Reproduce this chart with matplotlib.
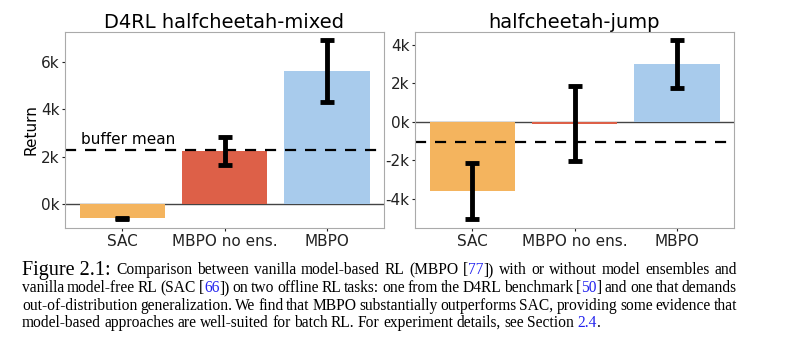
import matplotlib.pyplot as plt

# Data
methods = ["SAC", "MBPO no ens.", "MBPO"]
colors = ["#F4B45E", "#DD6048", "#A8CBEC"]

mixed_mean = [-600, 2250, 5600]
mixed_err = [30, 600, 1300]
mixed_buffer = 2300

jump_mean = [-3570, -100, 2980]
jump_err = [1440, 1940, 1250]
jump_buffer = -1050

caption_lines = [
    "Comparison between vanilla model-based RL (MBPO [{77}]) with or without model ensembles and",
    "vanilla model-free RL (SAC [{66}]) on two offline RL tasks: one from the D4RL benchmark [{50}] and one that demands",
    "out-of-distribution generalization. We find that MBPO substantially outperforms SAC, providing some evidence that",
    "model-based approaches are well-suited for batch RL. For experiment details, see Section {2.4}.",
]

W, H = 790, 342
fig = plt.figure(figsize=(W / 100, H / 100), dpi=100)


def k_fmt(v, _):
    return f"{int(round(v / 1000))}k"


def panel(rect, title, means, errs, buffer, ylim, ticks, ylabel=None):
    ax = fig.add_axes(rect)
    ax.axhline(0, color="#444444", lw=1, zorder=0.5)
    ax.bar(methods, means, width=0.84, color=colors, zorder=1)
    ax.errorbar(range(len(methods)), means, yerr=errs, fmt="none",
                ecolor="black", elinewidth=3.5, capsize=5, capthick=3.5,
                zorder=3)
    ax.axhline(buffer, color="black", lw=1.6, ls=(0, (5, 4)), zorder=2)
    ax.set_ylim(*ylim)
    ax.set_yticks(ticks)
    ax.yaxis.set_major_formatter(plt.FuncFormatter(k_fmt))
    ax.set_title(title, fontsize=14, pad=2)
    ax.tick_params(labelsize=11, length=2, pad=2, colors="#222222")
    for s in ax.spines.values():
        s.set_color("#AAAAAA")
    if ylabel:
        ax.set_ylabel(ylabel, fontsize=11, labelpad=2)
    return ax


ax1 = panel([65 / W, 1 - 228 / H, 319 / W, 196 / H], "D4RL halfcheetah-mixed",
            mixed_mean, mixed_err, mixed_buffer, (-1000, 7250),
            [0, 2000, 4000, 6000], ylabel="Return")
ax1.text(-0.41, mixed_buffer + 250, "buffer mean", fontsize=11)

ax2 = panel([415 / W, 1 - 228 / H, 319 / W, 196 / H], "halfcheetah-jump",
            jump_mean, jump_err, jump_buffer, (-5500, 4650),
            [-4000, -2000, 0, 2000, 4000])

# Caption, justified word by word
renderer = fig.canvas.get_renderer()
serif = "Liberation Serif"
fsize = 11.2
x0, x1 = 22, 737
line_y = [270, 288, 306, 323]

lbl = fig.text(x0 / W, 1 - line_y[0] / H, "Figure 2.1:", family=serif,
               fontsize=14.5, va="center")
lbl_w = lbl.get_window_extent(renderer).width


def parse_word(word):
    segs = []
    buf = ""
    blue = False
    for ch in word:
        if ch in "{}":
            if buf:
                segs.append((buf, "#2222EE" if blue else "black"))
            buf = ""
            blue = ch == "{"
        else:
            buf += ch
    if buf:
        segs.append((buf, "#2222EE" if blue else "black"))
    return segs


for i, (line, y) in enumerate(zip(caption_lines, line_y)):
    start = x0 + lbl_w + 6 if i == 0 else x0
    words = []
    for w in line.split(" "):
        arts = []
        for txt, col in parse_word(w):
            t = fig.text(0, 1 - y / H, txt, family=serif, fontsize=fsize,
                         color=col, va="center")
            arts.append((t, t.get_window_extent(renderer).width))
        words.append(arts)
    widths = [sum(wd for _, wd in a) for a in words]
    last = i == len(caption_lines) - 1
    if last:
        gap = fsize * 0.3
    else:
        gap = (x1 - start - sum(widths)) / (len(words) - 1)
    x = start
    for arts, wsum in zip(words, widths):
        xx = x
        for t, wd in arts:
            t.set_x(xx / W)
            xx += wd
        x += wsum + gap

fig.savefig("out.png", dpi=100)
